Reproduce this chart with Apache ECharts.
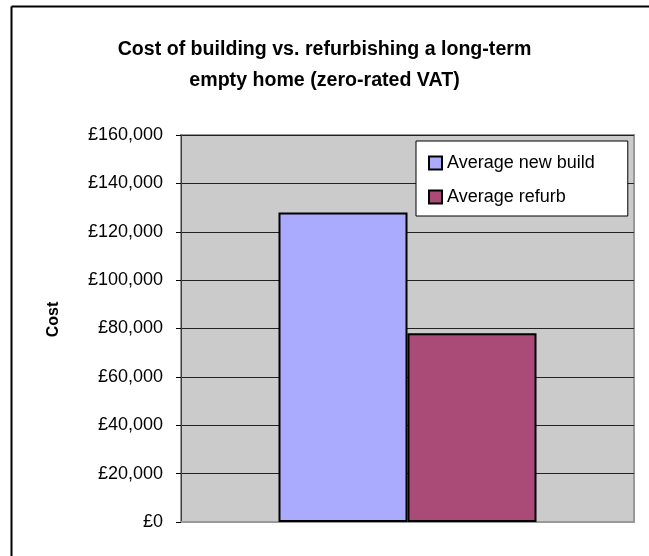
<!DOCTYPE html>
<html>
<head>
<meta charset="utf-8">
<script src="https://cdn.jsdelivr.net/npm/echarts@6/dist/echarts.min.js"></script>
<style>
  html, body { margin: 0; padding: 0; background: #fff; }
  #main { width: 649px; height: 556px; }
</style>
</head>
<body>
<div id="main"></div>
<script>
const categories = ['Cost'];
const seriesNames = ['Average new build', 'Average refurb'];
const newBuild = [128000];
const refurb = [78000];

const chart = echarts.init(document.getElementById('main'));
const font = 'Liberation Sans, Arial, sans-serif';

function money(v) {
	return '£' + String(v).replace(/\B(?=(\d{3})+(?!\d))/g, ',');
}

const option = {
	animation: false,
	textStyle: {fontFamily: font},
	title: {
		text: 'Cost of building vs. refurbishing a long-term\nempty home (zero-rated VAT)',
		left: 'center',
		top: 29,
		textStyle: {fontFamily: font, fontSize: 19.6, fontWeight: 'bold', color: '#000', lineHeight: 31}
	},
	graphic: [
		// chart frame (left and top edges are the only ones visible)
		{type: 'line', shape: {x1: 11.5, y1: 6.5, x2: 11.5, y2: 556}, style: {stroke: '#000', lineWidth: 2}},
		{type: 'line', shape: {x1: 11.5, y1: 6.5, x2: 649, y2: 6.5}, style: {stroke: '#000', lineWidth: 2}}
	],
	legend: {
		orient: 'vertical',
		left: 416,
		top: 141,
		padding: [13, 33, 10, 12],
		itemGap: 16,
		itemWidth: 13,
		itemHeight: 13,
		backgroundColor: '#fff',
		borderColor: '#000',
		borderWidth: 1,
		borderRadius: 0,
		textStyle: {fontFamily: font, fontSize: 18, color: '#000'},
		data: seriesNames.map(n => ({name: n, icon: 'rect'}))
	},
	grid: {
		left: 181,
		top: 135,
		width: 453,
		height: 387,
		show: true,
		backgroundColor: '#cbcbcb',
		borderColor: '#999',
		borderWidth: 2
	},
	xAxis: {
		type: 'category',
		data: categories,
		axisLine: {lineStyle: {color: '#999', width: 2}},
		axisTick: {show: false},
		axisLabel: {show: false}
	},
	yAxis: {
		type: 'value',
		min: 0,
		max: 160000,
		interval: 20000,
		name: 'Cost',
		nameLocation: 'middle',
		nameRotate: 90,
		nameGap: 119,
		nameTextStyle: {fontFamily: font, fontSize: 16, fontWeight: 'bold', color: '#000', padding: [0, 0, 0, 18]},
		axisLine: {show: true, lineStyle: {color: '#404040', width: 1}},
		axisTick: {show: true, length: 5, lineStyle: {color: '#000'}},
		axisLabel: {fontFamily: font, fontSize: 18, color: '#000', margin: 18, formatter: money},
		splitLine: {lineStyle: {color: '#222', width: 1}}
	},
	series: [
		{
			name: seriesNames[0],
			type: 'bar',
			data: newBuild,
			barWidth: 129,
			barGap: '0%',
			itemStyle: {color: '#aaaaff', borderColor: '#000', borderWidth: 2}
		},
		{
			name: seriesNames[1],
			type: 'bar',
			data: refurb,
			barWidth: 129,
			barGap: '0%',
			itemStyle: {color: '#aa4a77', borderColor: '#000', borderWidth: 2}
		}
	]
};

chart.setOption(option);
</script>
</body>
</html>
